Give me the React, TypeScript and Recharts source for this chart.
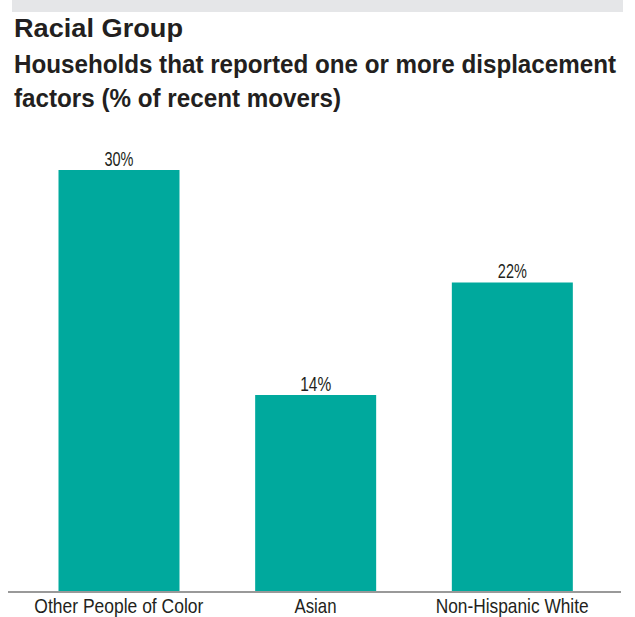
import { BarChart, Bar, XAxis, YAxis, LabelList } from 'recharts';

const groups = ['Other People of Color', 'Asian', 'Non-Hispanic White'];
const shares = [30, 14, 22];
// printed widths of the narrow source font, used to squeeze our wider fallback font
const groupLabelWidths = [169, 42, 153];
const shareLabelWidths = [29, 31, 29];

const data = groups.map((group, i) => ({ group, share: shares[i] }));

const FONT = '"Liberation Sans", Arial, sans-serif';
const TEAL = '#00a99d';
const INK = '#231f20';

function GroupTick(props: any) {
  const { x, y, payload, index } = props;
  return (
    <text
      x={x}
      y={y + 13}
      textAnchor="middle"
      fill={INK}
      fontSize={21}
      fontFamily={FONT}
      textLength={groupLabelWidths[index]}
      lengthAdjust="spacingAndGlyphs"
    >
      {payload.value}
    </text>
  );
}

function ShareLabel(props: any) {
  const { x, y, width, value, index } = props;
  return (
    <text
      x={x + width / 2}
      y={y - 4.5}
      textAnchor="middle"
      fill={INK}
      fontSize={21}
      fontFamily={FONT}
      textLength={shareLabelWidths[index]}
      lengthAdjust="spacingAndGlyphs"
    >
      {`${value}%`}
    </text>
  );
}

export default function App() {
  return (
    <div style={{ position: 'absolute', left: 0, top: 0, width: 635, height: 617, background: '#fff', overflow: 'hidden' }}>
      <svg width={635} height={130} style={{ position: 'absolute', left: 0, top: 0 }}>
        <rect x={12} y={0} width={611} height={12} fill="#e5e6e8" />
        <text x={14} y={37} fontFamily={FONT} fontSize={25} fontWeight={700} fill={INK} textLength={169} lengthAdjust="spacingAndGlyphs">
          Racial Group
        </text>
        <text x={14} y={73} fontFamily={FONT} fontSize={25} fontWeight={700} fill={INK} textLength={602} lengthAdjust="spacingAndGlyphs">
          Households that reported one or more displacement
        </text>
        <text x={14} y={106.5} fontFamily={FONT} fontSize={25} fontWeight={700} fill={INK} textLength={327} lengthAdjust="spacingAndGlyphs">
          factors (% of recent movers)
        </text>
      </svg>
      <div style={{ position: 'absolute', left: 0, top: 0 }}>
        <BarChart width={635} height={617} data={data} margin={{ top: 170, right: 14, bottom: 0, left: 8 }}>
          <YAxis hide domain={[0, 30]} />
          <XAxis
            dataKey="group"
            height={25}
            padding={{ left: 12.5, right: 10.5 }}
            axisLine={{ stroke: '#999', strokeWidth: 2 }}
            tickLine={false}
            tick={<GroupTick />}
            interval={0}
          />
          <Bar dataKey="share" fill={TEAL} barSize={121} isAnimationActive={false}>
            <LabelList dataKey="share" content={<ShareLabel />} />
          </Bar>
        </BarChart>
      </div>
    </div>
  );
}
